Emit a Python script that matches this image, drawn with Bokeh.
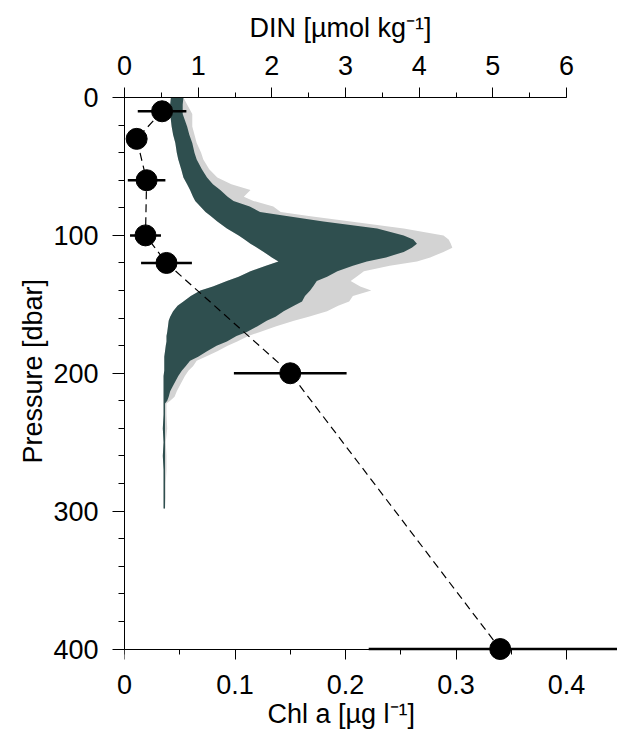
from bokeh.plotting import figure
from bokeh.models import (Range1d, LinearAxis, SingleIntervalTicker,
                          CustomJSTickFormatter, Title)
from bokeh.embed import file_html
from bokeh.resources import INLINE

# Chl a bottle samples: pressure [dbar], mean [ug/l], half-width of error bar
chl_pressure = [10, 30, 60, 100, 120, 200, 400]
chl_value = [0.034, 0.011, 0.020, 0.019, 0.038, 0.150, 0.340]
chl_err = [0.022, 0.008, 0.017, 0.014, 0.023, 0.051, 0.119]

# DIN envelope from the sensor profiles [umol/kg]
din_pressure = [0, 5, 12, 21, 27, 33, 40, 45, 52, 58, 63, 67, 72, 75, 79, 83, 86,
                90, 95, 100, 103, 106, 109, 112, 116, 119, 122, 126, 130, 133,
                137, 140, 144, 148, 151, 155, 159, 162, 166, 170, 173, 177, 180,
                184, 188, 191, 195, 198, 202, 206, 210, 213, 217, 220, 222, 230,
                240, 250, 260, 270, 280, 290, 298]
din_dark_lo = [0.63, 0.62, 0.62, 0.64, 0.66, 0.69, 0.71, 0.73, 0.77, 0.80, 0.85,
               0.89, 0.93, 0.96, 1.03, 1.10, 1.17, 1.26, 1.39, 1.55, 1.63, 1.71,
               1.80, 1.89, 2.00, 2.09, 1.92, 1.71, 1.55, 1.39, 1.20, 1.03, 0.90,
               0.80, 0.72, 0.66, 0.62, 0.60, 0.59, 0.58, 0.57, 0.57, 0.56, 0.55,
               0.54, 0.54, 0.54, 0.54, 0.53, 0.53, 0.53, 0.53, 0.53, 0.53, 0.53,
               0.53, 0.52, 0.53, 0.52, 0.53, 0.53, 0.53, 0.53]
din_dark_hi = [0.80, 0.79, 0.79, 0.85, 0.88, 0.92, 0.95, 0.98, 1.05, 1.12, 1.20,
               1.30, 1.40, 1.48, 1.70, 1.84, 2.20, 2.70, 3.43, 3.79, 3.92, 3.97,
               3.90, 3.79, 3.55, 3.29, 3.10, 2.89, 2.75, 2.61, 2.56, 2.52, 2.45,
               2.41, 2.30, 2.16, 2.05, 1.93, 1.80, 1.66, 1.52, 1.39, 1.25, 1.12,
               1.00, 0.89, 0.83, 0.78, 0.73, 0.69, 0.65, 0.62, 0.60, 0.58, 0.55,
               0.55, 0.55, 0.55, 0.55, 0.55, 0.55, 0.55, 0.55]
din_grey_hi = [0.80, 0.85, 0.92, 0.92, 0.95, 0.98, 1.04, 1.07, 1.15, 1.26, 1.45,
               1.71, 1.62, 1.75, 2.02, 2.12, 2.50, 3.07, 3.79, 4.33, 4.40, 4.43,
               4.45, 4.33, 4.15, 3.97, 3.60, 3.25, 3.15, 3.07, 3.20, 3.35, 3.10,
               3.05, 2.90, 2.75, 2.50, 2.30, 2.05, 1.84, 1.68, 1.53, 1.40, 1.26,
               1.10, 0.98, 0.93, 0.87, 0.82, 0.78, 0.74, 0.71, 0.68, 0.62, 0.57,
               0.57, 0.58, 0.56, 0.57, 0.57, 0.56, 0.56, 0.55]

chl_ticks_max = 0.4
din_ticks_max = 6
p_max = 400

# canvas geometry (pixels)
W, H = 617, 736
left, right, top, bottom = 124, 617, 96, 660
axis_px_right = 566      # where the last tick of the x axes sits
axis_px_bottom = 648.5   # where pressure 400 sits

frac = (right - left) / (axis_px_right - left)
chl_end = chl_ticks_max * frac
din_end = din_ticks_max * frac
p_end = p_max * (bottom - top) / (axis_px_bottom - top)

FONT = "Liberation Sans"
FS = "27px"

p = figure(width=W, height=H, output_backend="svg", toolbar_location=None,
           x_range=Range1d(0, chl_end), y_range=Range1d(p_end, 0),
           x_axis_location=None, y_axis_location=None,
           min_border_left=left, min_border_right=W - right,
           min_border_top=top, min_border_bottom=H - bottom)
p.outline_line_color = None
p.xgrid.visible = False
p.ygrid.visible = False
p.background_fill_color = "white"
p.border_fill_color = "white"
p.extra_x_ranges = {"din": Range1d(0, din_end)}


def style(ax, tick_out, minor_out, standoff):
    ax.axis_line_color = "black"
    ax.axis_line_width = 1
    ax.major_tick_line_color = "black"
    ax.minor_tick_line_color = "black"
    ax.major_tick_in = 0
    ax.minor_tick_in = 0
    ax.major_tick_out = tick_out
    ax.minor_tick_out = minor_out
    ax.major_label_standoff = standoff
    ax.major_label_text_font = FONT
    ax.major_label_text_font_size = FS
    ax.major_label_text_color = "black"


def axis_title(text, offset, standoff=0):
    return Title(text=text, align="left", offset=offset, standoff=standoff,
                 text_font=FONT, text_font_size=FS, text_font_style="normal",
                 text_color="black")


# pressure axis
y_ax = LinearAxis(ticker=SingleIntervalTicker(interval=100, num_minor_ticks=5),
                  bounds=(0, p_max))
style(y_ax, 12, 6, 14)
p.add_layout(y_ax, "left")
p.add_layout(axis_title("Pressure [dbar]", 197, 6), "left")

# DIN axis on top
din_ax = LinearAxis(x_range_name="din",
                    ticker=SingleIntervalTicker(interval=1, num_minor_ticks=2),
                    bounds=(0, din_ticks_max))
style(din_ax, 10, 5, 13)
p.add_layout(din_ax, "above")
p.add_layout(axis_title("DIN [µmol kg⁻¹]", 125, 20), "above")

chl_ticker = SingleIntervalTicker(interval=0.1, num_minor_ticks=2)
chl_fmt = CustomJSTickFormatter(
    code="return Math.abs(tick) < 1e-9 ? '0' : tick.toFixed(1);")

# Chl a tick labels, below the frame
chl_lab = LinearAxis(ticker=chl_ticker, bounds=(0, chl_ticks_max), formatter=chl_fmt)
style(chl_lab, 0, 0, 14)
chl_lab.axis_line_color = None
chl_lab.major_tick_line_color = None
chl_lab.minor_tick_line_color = None
p.add_layout(chl_lab, "below")
p.add_layout(axis_title("Chl a [µg l⁻¹]", 143), "below")

# Chl a axis line and ticks, pinned to pressure 400
chl_ax = LinearAxis(ticker=chl_ticker, bounds=(0, chl_ticks_max),
                    fixed_location=p_max, formatter=chl_fmt)
style(chl_ax, 10, 5, 0)
chl_ax.major_label_text_alpha = 0
chl_ax.major_label_text_font_size = "1px"
p.add_layout(chl_ax, "below")

# DIN envelopes
p.harea(y=din_pressure, x1=din_dark_lo, x2=din_grey_hi, x_range_name="din",
        fill_color="#D3D3D3", fill_alpha=1)
p.harea(y=din_pressure, x1=din_dark_lo, x2=din_dark_hi, x_range_name="din",
        fill_color="#2F4F4F", fill_alpha=1)

# Chl a profile
chl_lo = [v - e for v, e in zip(chl_value, chl_err)]
chl_hi = [v + e for v, e in zip(chl_value, chl_err)]
p.line(chl_value, chl_pressure, line_color="black", line_width=1.2, line_dash="8 5")
p.segment(x0=chl_lo, y0=chl_pressure, x1=chl_hi, y1=chl_pressure,
          line_color="black", line_width=2.5)
p.scatter(chl_value, chl_pressure, size=21, fill_color="black", line_color="black")

open("out.html", "w").write(file_html(p, INLINE))
